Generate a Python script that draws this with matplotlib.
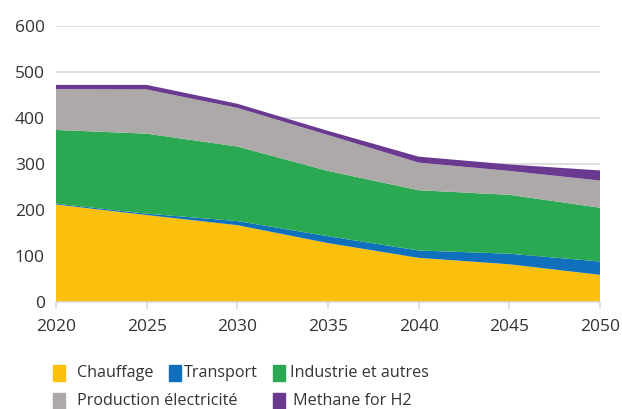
import matplotlib
matplotlib.use("Agg")
import matplotlib.pyplot as plt
from matplotlib.patches import Rectangle

years = [2020, 2025, 2030, 2035, 2040, 2045, 2050]
chauffage = [212, 189, 167, 128, 96, 82, 59]
transport = [2, 3, 9, 15, 16, 23, 29]
industrie = [160, 174, 162, 142, 131, 128, 117]
production = [89, 96, 84, 78, 60, 52, 59]
methane = [9, 10, 9, 9, 13, 14, 22]

labels = ["Chauffage", "Transport", "Industrie et autres", "Production électricité", "Methane for H2"]
colors = ["#FBC00E", "#1170BB", "#2AA952", "#ADA9A8", "#6A3A91"]

plt.rcParams['font.family'] = ['Open Sans', 'DejaVu Sans']

fig = plt.figure(figsize=(6.22, 4.09), dpi=100)
ax = fig.add_axes([56/622, 1-302/409, 544/622, 276/409])

ax.stackplot(years, chauffage, transport, industrie, production, methane,
             colors=colors, linewidth=0, zorder=3)

ax.set_xlim(2020, 2050)
ax.set_ylim(0, 600)
ax.set_yticks(range(0, 601, 100))
ax.set_xticks(years)
ax.grid(axis='y', color='#D9D9D9', linewidth=1.2, zorder=0)
for s in ['top', 'right', 'left']:
    ax.spines[s].set_visible(False)
ax.spines['bottom'].set_color('#D9D9D9')
ax.spines['bottom'].set_linewidth(1.2)
ax.spines['bottom'].set_zorder(4)
ax.tick_params(axis='y', length=0, labelsize=12.5, labelcolor='#333333', pad=8)
ax.tick_params(axis='x', length=5, width=1.2, color='#D9D9D9', labelsize=12.5, labelcolor='#333333', pad=7)

# Legend (manual layout)
entries = [
    (53, 373, 77, 0),
    (169, 373, 184, 1),
    (273, 373, 290, 2),
    (53, 401, 77, 3),
    (273, 401, 293, 4),
]
W, H = 622, 409
for px, py, tx, i in entries:
    fig.patches.append(Rectangle((px/W, 1-(py+8)/H), 12/W, 16/H,
                                 transform=fig.transFigure, color=colors[i]))
    fig.text(tx/W, 1-py/H, labels[i], fontsize=11.6, color='#333333', va='center', ha='left')

fig.savefig("out.png", dpi=100)
